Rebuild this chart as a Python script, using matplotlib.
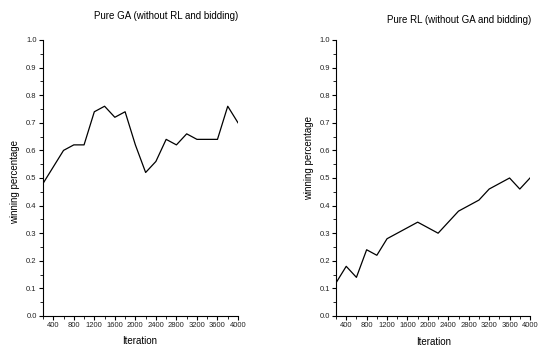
import numpy as np
import matplotlib
matplotlib.use("Agg")
import matplotlib.pyplot as plt
from matplotlib.ticker import MultipleLocator

plt.rcParams['font.family'] = ['Liberation Sans', 'DejaVu Sans']

# iteration steps and winning rates for both runs
iterations = [200, 400, 600, 800, 1000, 1200, 1400, 1600, 1800, 2000,
              2200, 2400, 2600, 2800, 3000, 3200, 3400, 3600, 3800, 4000]
ga_win = [0.48, 0.54, 0.60, 0.62, 0.62, 0.74, 0.76, 0.72, 0.74, 0.62,
          0.52, 0.56, 0.64, 0.62, 0.66, 0.64, 0.64, 0.64, 0.76, 0.70]
rl_win = [0.12, 0.18, 0.14, 0.24, 0.22, 0.28, 0.30, 0.32, 0.34, 0.32,
          0.30, 0.34, 0.38, 0.40, 0.42, 0.46, 0.48, 0.50, 0.46, 0.50]
titles = ["Pure GA (without RL and bidding)", "Pure RL (without GA and bidding)"]

W, H = 538, 349
fig = plt.figure(figsize=(W / 100, H / 100), dpi=100)

def px(x0, y0, x1, y1):
    return [x0 / W, 1 - y1 / H, (x1 - x0) / W, (y1 - y0) / H]

ax1 = fig.add_axes(px(43, 40, 238, 316))
ax2 = fig.add_axes(px(336, 40, 530, 316))

for ax, y, title in [(ax1, ga_win, titles[0]), (ax2, rl_win, titles[1])]:
    ax.plot(iterations, y, color='black', lw=0.9)
    ax.set_xlim(200, 4000)
    ax.set_ylim(0, 1.0)
    ax.xaxis.set_major_locator(MultipleLocator(400))
    ax.xaxis.set_minor_locator(MultipleLocator(200))
    ax.yaxis.set_major_locator(MultipleLocator(0.1))
    ax.yaxis.set_minor_locator(MultipleLocator(0.05))
    ax.set_xticks(np.arange(400, 4001, 400))
    ax.yaxis.set_major_formatter(plt.FormatStrFormatter('%.1f'))
    for s in ['top', 'right']:
        ax.spines[s].set_visible(False)
    for s in ['left', 'bottom']:
        ax.spines[s].set_linewidth(0.8)
    ax.tick_params(which='major', direction='out', length=3, width=0.8,
                   labelsize=5.5, labelcolor='#222222', pad=1.5)
    ax.tick_params(which='minor', direction='out', length=2, width=0.6)

fig.text(166 / W, 1 - 16 / H, titles[0], ha='center', va='center', fontsize=7)
fig.text(459 / W, 1 - 20 / H, titles[1], ha='center', va='center', fontsize=7)
fig.text(140 / W, 1 - 341 / H, "Iteration", ha='center', va='center', fontsize=7)
fig.text(434 / W, 1 - 342 / H, "Iteration", ha='center', va='center', fontsize=7)
fig.text(15 / W, 1 - 182 / H, "winning percentage", ha='center', va='center', fontsize=7, rotation=90)
fig.text(309 / W, 1 - 158 / H, "winning percentage", ha='center', va='center', fontsize=7, rotation=90)

fig.savefig("out.png", dpi=100)
